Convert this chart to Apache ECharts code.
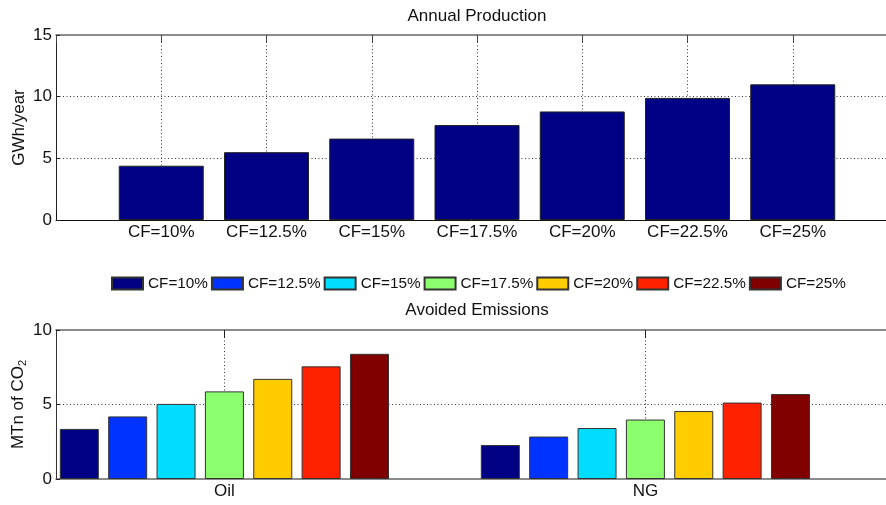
<!DOCTYPE html>
<html>
<head>
<meta charset="utf-8">
<script src="https://cdn.jsdelivr.net/npm/echarts@6/dist/echarts.min.js"></script>
<style>
  html, body { margin: 0; padding: 0; background: #fff; }
  #chart { width: 886px; height: 505px; }
</style>
</head>
<body>
<div id="chart"></div>
<script>
// Capacity-factor scenarios
const cfLabels = ['CF=10%', 'CF=12.5%', 'CF=15%', 'CF=17.5%', 'CF=20%', 'CF=22.5%', 'CF=25%'];
// Annual production per scenario (GWh/year)
const annualProduction = [4.4, 5.5, 6.6, 7.7, 8.8, 9.9, 11.0];
// Avoided emissions per displaced fuel (MTn of CO2)
const fuelGroups = ['Oil', 'NG'];
const avoidedOil = [3.36, 4.2, 5.04, 5.88, 6.72, 7.56, 8.4];
const avoidedNG = [2.28, 2.85, 3.42, 3.99, 4.56, 5.13, 5.7];
// Axis ranges / ticks
const productionTicks = [0, 5, 10, 15];
const emissionTicks = [0, 5, 10];

const cfColors = ['#000085', '#0033ff', '#00ddff', '#8cff6e', '#ffcc00', '#ff2200', '#800000'];
const FONT = '"Liberation Sans", Arial, Helvetica, sans-serif';
const TXT = '#111';
const axisFont = 17;
const dotted = { color: '#333', width: 1, type: [1, 2.5] };

const chart = echarts.init(document.getElementById('chart'), null, { renderer: 'canvas' });

// positions of the two fuel groups on the lower x axis
const groupPos = fuelGroups.map((_, i) => i + 1);
const cfPos = cfLabels.map((_, i) => i + 1);

const series = [];
series.push({
  name: 'Annual Production',
  type: 'bar',
  xAxisIndex: 0,
  yAxisIndex: 0,
  barWidth: 85,
  itemStyle: { color: cfColors[0], borderColor: '#222', borderWidth: 1 },
  data: annualProduction.map((v, i) => [cfPos[i], v])
});
cfLabels.forEach((name, k) => {
  series.push({
    name: name,
    type: 'bar',
    xAxisIndex: 2,
    yAxisIndex: 1,
    barWidth: 39,
    barGap: '24%',
    itemStyle: { color: cfColors[k], borderColor: '#333', borderWidth: 1 },
    data: [[groupPos[0], avoidedOil[k]], [groupPos[1], avoidedNG[k]]]
  });
});

const option = {
  animation: false,
  textStyle: { fontFamily: FONT, color: TXT },
  grid: [
    { left: 56, top: 35, width: 842, height: 185, outerBoundsMode: 'none', containLabel: false },
    { left: 56, top: 330, width: 842, height: 149, outerBoundsMode: 'none', containLabel: false }
  ],
  legend: {
    data: cfLabels,
    left: 111,
    top: 276,
    padding: 0,
    icon: 'rect',
    itemWidth: 31,
    itemHeight: 12,
    itemGap: 3,
    textStyle: { fontSize: 15.3, fontFamily: FONT, color: TXT }
  },
  graphic: [
    { type: 'text', x: 477, y: 16, style: { text: 'Annual Production', fontSize: axisFont, fontFamily: FONT, fill: TXT, align: 'center', verticalAlign: 'middle' } },
    { type: 'text', x: 477, y: 310, style: { text: 'Avoided Emissions', fontSize: axisFont, fontFamily: FONT, fill: TXT, align: 'center', verticalAlign: 'middle' } }
  ],
  xAxis: [
    {
      gridIndex: 0, type: 'value', position: 'bottom',
      min: 0, max: 8, interval: 1,
      axisLine: { show: true, lineStyle: { color: '#111', width: 1 } },
      axisTick: { show: true, inside: true, length: 8, lineStyle: { color: '#111' } },
      axisLabel: { fontSize: axisFont, color: TXT, margin: 4, formatter: v => cfLabels[v - 1] || '' },
      splitLine: { show: true, showMinLine: false, showMaxLine: false, lineStyle: dotted }
    },
    {
      gridIndex: 0, type: 'value', position: 'top',
      min: 0, max: 8, interval: 1,
      axisLine: { show: true, lineStyle: { color: '#666', width: 1.5 } },
      axisTick: { show: true, inside: true, length: 8, lineStyle: { color: '#444' } },
      axisLabel: { show: false },
      splitLine: { show: false }
    },
    {
      gridIndex: 1, type: 'value', position: 'bottom',
      min: 0.6, max: 2.6,
      axisLine: { show: true, lineStyle: { color: '#666', width: 1.5 } },
      axisTick: { show: true, inside: true, length: 8, customValues: groupPos, lineStyle: { color: '#111' } },
      axisLabel: { fontSize: axisFont, color: TXT, margin: 4, customValues: groupPos, formatter: v => fuelGroups[Math.round(v) - 1] || '' },
      splitLine: { show: true, customValues: groupPos, lineStyle: dotted }
    },
    {
      gridIndex: 1, type: 'value', position: 'top',
      min: 0.6, max: 2.6,
      axisLine: { show: true, lineStyle: { color: '#666', width: 1.5 } },
      axisTick: { show: true, inside: true, length: 8, customValues: groupPos, lineStyle: { color: '#222' } },
      axisLabel: { show: false, customValues: groupPos },
      splitLine: { show: false }
    }
  ],
  yAxis: [
    {
      gridIndex: 0, type: 'value', position: 'left',
      min: productionTicks[0], max: productionTicks[productionTicks.length - 1], interval: 5,
      name: 'GWh/year', nameLocation: 'middle', nameRotate: 90, nameGap: 28, nameMoveOverlap: false,
      nameTextStyle: { fontSize: axisFont, color: TXT, fontFamily: FONT },
      axisLine: { show: true, lineStyle: { color: '#222', width: 1 } },
      axisTick: { show: true, inside: true, length: 4, lineStyle: { color: '#222' } },
      axisLabel: { fontSize: axisFont, color: TXT, margin: 4 },
      splitLine: { show: true, showMinLine: false, showMaxLine: false, lineStyle: dotted }
    },
    {
      gridIndex: 1, type: 'value', position: 'left',
      min: emissionTicks[0], max: emissionTicks[emissionTicks.length - 1], interval: 5,
      name: '{a|MTn of CO}{b|2}', nameLocation: 'middle', nameRotate: 90, nameGap: 28, nameMoveOverlap: false,
      nameTextStyle: {
        color: TXT, fontFamily: FONT,
        rich: {
          a: { fontSize: axisFont, lineHeight: 20, fontFamily: FONT, color: TXT },
          b: { fontSize: 11, lineHeight: 11, verticalAlign: 'bottom', fontFamily: FONT, color: TXT }
        }
      },
      axisLine: { show: true, lineStyle: { color: '#333', width: 1 } },
      axisTick: { show: true, inside: true, length: 4, lineStyle: { color: '#222' } },
      axisLabel: { fontSize: axisFont, color: TXT, margin: 4 },
      splitLine: { show: true, showMinLine: false, showMaxLine: false, lineStyle: dotted }
    }
  ],
  series: series
};

chart.setOption(option);
</script>
</body>
</html>
